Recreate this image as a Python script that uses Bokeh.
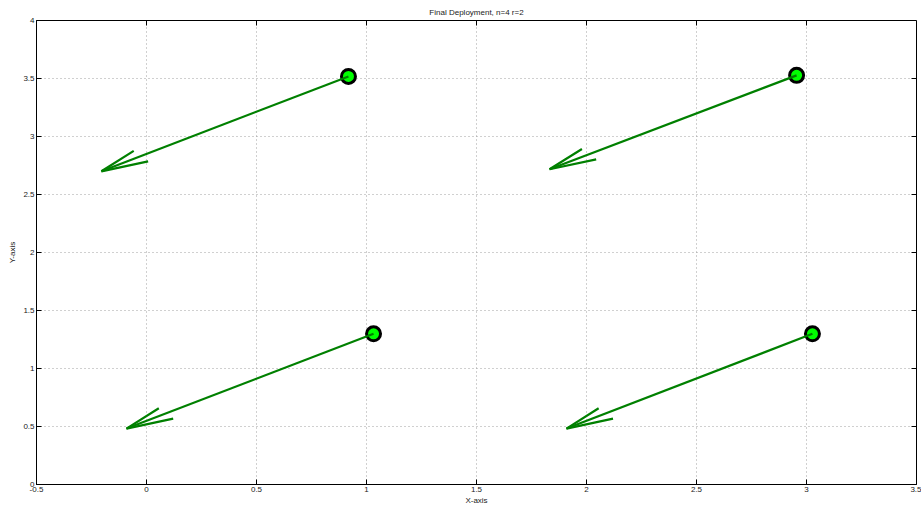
import math
from bokeh.plotting import figure
from bokeh.models import Range1d, FixedTicker
from bokeh.embed import file_html
from bokeh.resources import INLINE

title_text = "Final Deployment, n=4 r=2"
x_label = "X-axis"
y_label = "Y-axis"
x_ticks = [-0.5, 0, 0.5, 1, 1.5, 2, 2.5, 3, 3.5]
x_tick_labels = ["-0.5", "0", "0.5", "1", "1.5", "2", "2.5", "3", "3.5"]
y_ticks = [0, 0.5, 1, 1.5, 2, 2.5, 3, 3.5, 4]
y_tick_labels = ["0", "0.5", "1", "1.5", "2", "2.5", "3", "3.5", "4"]
x_min, x_max = -0.5, 3.5
y_min, y_max = 0, 4

# node positions and their velocity vectors
pos_x = [0.918, 2.955, 1.032, 3.027]
pos_y = [3.518, 3.527, 1.299, 1.299]
vec_u = [-1.123, -1.123, -1.123, -1.118]
vec_v = [-0.818, -0.809, -0.817, -0.817]

# quiver arrowhead shape parameters
head_alpha = 0.16
head_beta = 0.25

FONT = "Liberation Sans"

p = figure(width=921, height=507, x_range=Range1d(x_min, x_max), y_range=Range1d(y_min, y_max),
           output_backend="svg", toolbar_location=None, title=title_text,
           x_axis_label=x_label, y_axis_label=y_label,
           min_border_left=36, min_border_right=5, min_border_top=20, min_border_bottom=0)
p.background_fill_color = "white"
p.border_fill_color = "white"
p.outline_line_color = "black"
p.outline_line_width = 1
p.outline_line_alpha = 1

p.title.align = "center"
p.title.text_font = FONT
p.title.text_font_size = "8px"
p.title.text_font_style = "normal"
p.title.text_color = "#222222"
p.title.standoff = 7

def style_axis(ax, labels, ticks):
    ax.ticker = FixedTicker(ticks=ticks)
    ax.major_label_overrides = {t: l for t, l in zip(ticks, labels)}
    ax.major_tick_in = 5
    ax.major_tick_out = 0
    ax.minor_tick_in = 0
    ax.minor_tick_out = 0
    ax.axis_line_color = "black"
    ax.major_tick_line_color = "black"
    ax.major_label_text_font = FONT
    ax.major_label_text_font_size = "8px"
    ax.major_label_text_color = "#222222"
    ax.major_label_standoff = 2
    ax.axis_label_text_font = FONT
    ax.axis_label_text_font_size = "8px"
    ax.axis_label_text_font_style = "normal"
    ax.axis_label_text_color = "#222222"
    ax.axis_label_standoff = 1

style_axis(p.xaxis[0], x_tick_labels, x_ticks)
style_axis(p.yaxis[0], y_tick_labels, y_ticks)
p.yaxis[0].axis_label_standoff = 3

# inward ticks on the top and right edges of the box
p.ray(x=x_ticks, y=[y_max] * len(x_ticks), length=5, length_units="screen",
      angle=-math.pi / 2, line_color="black", line_width=1)
p.ray(x=[x_max] * len(y_ticks), y=y_ticks, length=5, length_units="screen",
      angle=math.pi, line_color="black", line_width=1)

p.xgrid.ticker = FixedTicker(ticks=x_ticks)
p.ygrid.ticker = FixedTicker(ticks=y_ticks)
for g in (p.xgrid[0], p.ygrid[0]):
    g.grid_line_color = "#a0a0a0"
    g.grid_line_dash = "1 3"
    g.grid_line_width = 1

# markers
p.scatter(pos_x, pos_y, size=14, fill_color="#00ff00", line_color="black", line_width=3)

# arrows (quiver style)
xs, ys = [], []
for x0, y0, u, v in zip(pos_x, pos_y, vec_u, vec_v):
    tx, ty = x0 + u, y0 + v
    xs.append([x0, tx])
    ys.append([y0, ty])
    ax1 = tx - head_alpha * (u + head_beta * v)
    ay1 = ty - head_alpha * (v - head_beta * u)
    ax2 = tx - head_alpha * (u - head_beta * v)
    ay2 = ty - head_alpha * (v + head_beta * u)
    xs.append([ax1, tx, ax2])
    ys.append([ay1, ty, ay2])
p.multi_line(xs, ys, line_color="#008000", line_width=2.2)

open("out.html", "w").write(file_html(p, INLINE))
